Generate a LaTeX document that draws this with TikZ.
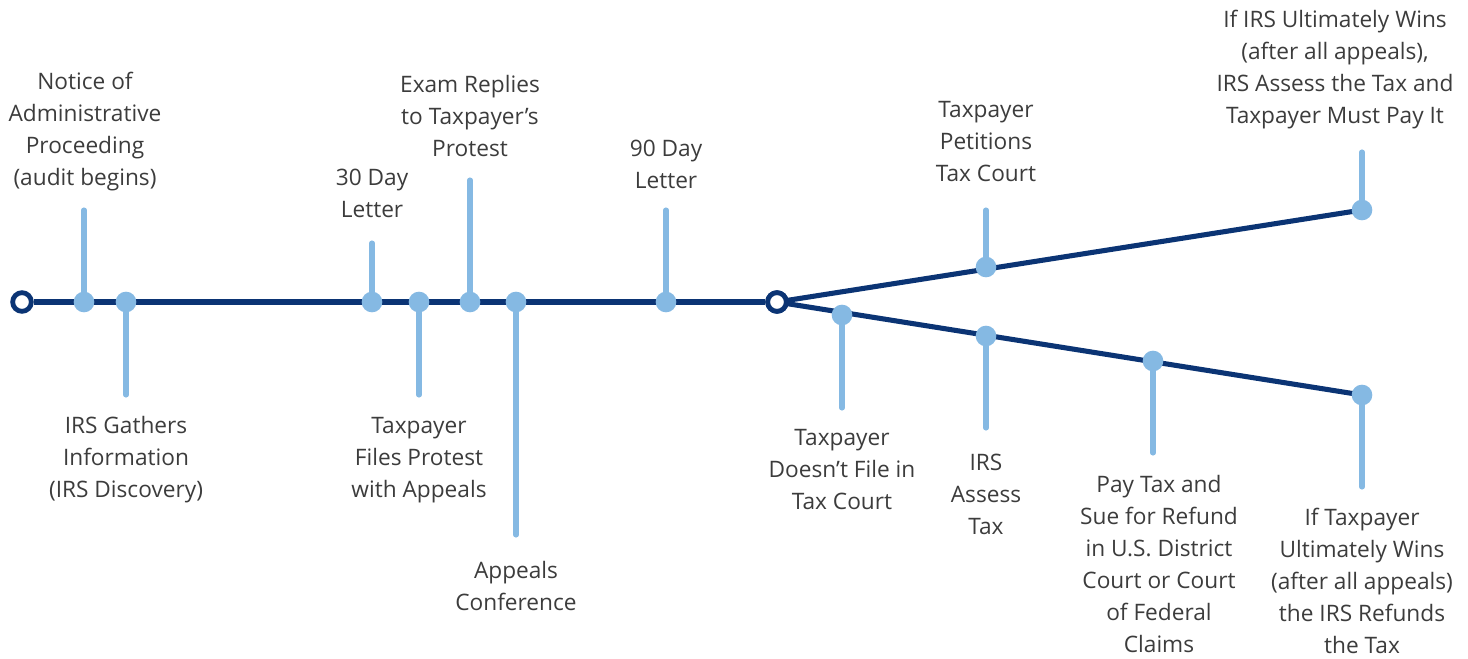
\documentclass[tikz,border=0pt]{standalone}
\usepackage{fontspec}
\setmainfont{Open Sans}
\begin{document}
\pgfdeclarelayer{bg}
\pgfsetlayers{bg,main}
\definecolor{navy}{HTML}{0B3474}
\definecolor{sky}{HTML}{85B9E3}
\definecolor{ink}{HTML}{3C3C3C}
\begin{tikzpicture}[x=0.75pt,y=-0.75pt,
  trunk/.style={draw=navy,line width=3.8pt},
  stem/.style={draw=sky,line width=3.8pt,line cap=round},
  dot/.style={circle,fill=sky,minimum size=15.5pt,inner sep=0pt},
  hub/.style={circle,draw=navy,fill=white,line width=3.6pt,minimum size=14pt,inner sep=0pt},
  lbl/.style={align=center,text=ink,font=\fontsize{17}{24}\selectfont,inner sep=0pt}]
\useasboundingbox (0,0) rectangle (1468,658);

% open end points of the timeline
\node[hub] (start) at (22,302) {};
\node[hub] (fork) at (777,302) {};

% events on the main line
\node[dot] (notice)  at (84,302) {};
\node[dot] (gather)  at (126,302) {};
\node[dot] (day30)   at (372,302) {};
\node[dot] (protest) at (419,302) {};
\node[dot] (exam)    at (470,302) {};
\node[dot] (conf)    at (516,302) {};
\node[dot] (day90)   at (666,302) {};

% events on the upper branch
\node[dot] (petition) at (986,267) {};
\node[dot] (irswins)  at (1362,210) {};

% events on the lower branch
\node[dot] (nofile)  at (842,315) {};
\node[dot] (assess)  at (986,336) {};
\node[dot] (refund)  at (1153,361) {};
\node[dot] (tpwins)  at (1362,395) {};

% free ends of the stems
\coordinate (tnotice)   at (84,210);
\coordinate (tgather)   at (126,395);
\coordinate (tday30)    at (372,243);
\coordinate (tprotest)  at (419,395);
\coordinate (texam)     at (470,180);
\coordinate (tconf)     at (516,535);
\coordinate (tday90)    at (666,210);
\coordinate (tpetition) at (986,210);
\coordinate (tirswins)  at (1362,152);
\coordinate (tnofile)   at (842,408);
\coordinate (tassess)   at (986,428);
\coordinate (trefund)   at (1153,453);
\coordinate (ttpwins)   at (1362,487);

\begin{pgfonlayer}{bg}
  \draw[trunk] (start) -- (fork);
  \draw[trunk] (fork.center) -- (irswins.center);
  \draw[trunk] (fork.center) -- (tpwins.center);
  \foreach \e in {notice,gather,day30,protest,exam,conf,day90,petition,irswins,nofile,assess,refund,tpwins}
    \draw[stem] (t\e) -- (\e.center);
\end{pgfonlayer}
\node[hub] at (fork) {};

% labels
\node[lbl] (lnotice)   at (85,132)   {Notice of\\Administrative\\Proceeding\\(audit begins)};
\node[lbl] (lgather)   at (126,460)  {IRS Gathers\\Information\\(IRS Discovery)};
\node[lbl] (lday30)    at (372,193)  {30 Day\\Letter};
\node[lbl] (lprotest)  at (419,460)  {Taxpayer\\Files Protest\\with Appeals};
\node[lbl] (lexam)     at (470,116)  {Exam Replies\\to Taxpayer’s\\Protest};
\node[lbl] (lconf)     at (516,586)  {Appeals\\Conference};
\node[lbl] (lday90)    at (666,164)  {90 Day\\Letter};
\node[lbl] (lpetition) at (986,142)  {Taxpayer\\Petitions\\Tax Court};
\node[lbl] (lirswins)  at (1335,70)  {If IRS Ultimately Wins\\(after all appeals),\\IRS Assess the Tax and\\Taxpayer Must Pay It};
\node[lbl] (lnofile)   at (842,470)  {Taxpayer\\Doesn’t File in\\Tax Court};
\node[lbl] (lassess)   at (986,494)  {IRS\\Assess\\Tax};
\node[lbl] (lrefund)   at (1159,564) {Pay Tax and\\Sue for Refund\\in U.S. District\\Court or Court\\of Federal\\Claims};
\node[lbl] (ltpwins)   at (1362,581) {If Taxpayer\\Ultimately Wins\\(after all appeals)\\the IRS Refunds\\the Tax};
\end{tikzpicture}
\end{document}
